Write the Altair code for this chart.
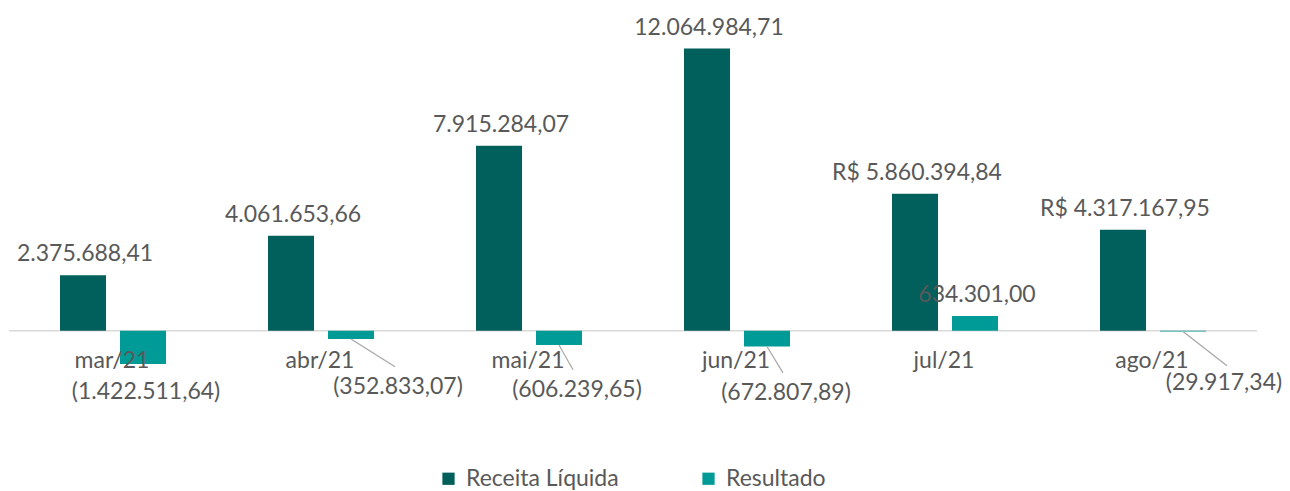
import altair as alt
import pandas as pd

months = ["mar/21", "abr/21", "mai/21", "jun/21", "jul/21", "ago/21"]
receita = [2375688.41, 4061653.66, 7915284.07, 12064984.71, 5860394.84, 4317167.95]
resultado = [-1422511.64, -352833.07, -606239.65, -672807.89, 634301.00, -29917.34]
series_names = ["Receita Líquida", "Resultado"]
receita_prefix = ["", "", "", "", "R$ ", "R$ "]

C_REC = "#02605C"
C_RES = "#009B97"
TXT = "#595959"
FONT = "Lato"
FS = 23


def br(v):
    s = f"{abs(v):,.2f}".replace(",", "X").replace(".", ",").replace("X", ".")
    return f"({s})" if v < 0 else s


rows = []
for i, m in enumerate(months):
    rows.append({"month": m, "series": series_names[0], "value": receita[i],
                 "label": receita_prefix[i] + br(receita[i])})
    rows.append({"month": m, "series": series_names[1], "value": resultado[i],
                 "label": br(resultado[i])})
df = pd.DataFrame(rows)

# manual label placement (pixels) for negative "Resultado" labels, as in the original
neg_label_pos = {
    "mar/21": (33, 61),
    "abr/21": (77, 56),
    "mai/21": (48, 59),
    "jun/21": (49, 62),
    "ago/21": (71, 52),
}
# leader lines: end point (dx from category centre, dy below baseline)
leader_end = {
    "abr/21": (74, 36),
    "mai/21": (44, 39),
    "jun/21": (46, 42),
    "ago/21": (74, 35),
}

x_enc = alt.X("month:N", sort=months, axis=None,
              scale=alt.Scale(paddingInner=0, paddingOuter=0))
y_scale = alt.Scale(domain=[-3000000, 13500000])
xoff_scale = alt.Scale(paddingInner=0.233, paddingOuter=0.85)

base = alt.Chart(df)

baseline = alt.Chart(pd.DataFrame({"z": [0]})).mark_rule(
    color="#d9d9d9", strokeWidth=1.5
).encode(y=alt.Y("z:Q", scale=y_scale, axis=None))

bars = base.mark_bar().encode(
    x=x_enc,
    xOffset=alt.XOffset("series:N", sort=series_names, scale=xoff_scale),
    y=alt.Y("value:Q", scale=y_scale, axis=None),
    color=alt.Color(
        "series:N",
        scale=alt.Scale(domain=series_names, range=[C_REC, C_RES]),
        legend=alt.Legend(
            orient="none", legendX=428, legendY=452, direction="horizontal",
            title=None, symbolType="square", symbolSize=150, symbolStrokeWidth=0,
            labelFont=FONT, labelFontSize=FS, labelColor=TXT,
            columnPadding=78, labelOffset=6, padding=0,
        ),
    ),
)

pos_labels = base.transform_filter("datum.value > 0").mark_text(
    baseline="alphabetic", dy=-14, dx=2, font=FONT, fontSize=FS, color=TXT
).encode(
    x=x_enc,
    xOffset=alt.XOffset("series:N", sort=series_names, scale=xoff_scale),
    y=alt.Y("value:Q", scale=y_scale, axis=None),
    text="label:N",
)

layers = [baseline, bars, pos_labels]

for m, (ldx, ldy) in neg_label_pos.items():
    layers.append(
        base.transform_filter(
            f"datum.month == '{m}' && datum.series == 'Resultado'"
        ).transform_calculate(zero="0").mark_text(
            baseline="middle", dx=ldx, dy=ldy, font=FONT, fontSize=FS, color=TXT
        ).encode(
            x=x_enc,
            y=alt.Y("zero:Q", scale=y_scale, axis=None),
            text="label:N",
        )
    )

for m, (edx, edy) in leader_end.items():
    layers.append(
        base.transform_filter(
            f"datum.month == '{m}' && datum.series == 'Resultado'"
        ).transform_calculate(zero="0").mark_rule(
            color="#a6a6a6", strokeWidth=1.2,
            xOffset=30, x2Offset=edx, y2Offset=edy
        ).encode(
            x=x_enc,
            x2=alt.X2("month"),
            y=alt.Y("value:Q", scale=y_scale, axis=None),
            y2=alt.Y2("zero"),
        )
    )

month_labels = base.transform_filter(
    "datum.series == 'Receita Líquida'"
).transform_calculate(zero="0").mark_text(
    baseline="middle", dy=30, dx=-1, font=FONT, fontSize=FS, color=TXT
).encode(
    x=x_enc,
    y=alt.Y("zero:Q", scale=y_scale, axis=None),
    text="month:N",
)
layers.append(month_labels)

chart = alt.layer(*layers).properties(
    width=1248, height=386,
    padding={"left": 1, "top": 7, "right": 25, "bottom": 90},
    autosize=alt.AutoSizeParams(type="none"),
).configure_view(stroke=None).resolve_scale(y="shared", x="shared")

chart.save("out.html", embed_options={"renderer": "svg", "actions": False})
